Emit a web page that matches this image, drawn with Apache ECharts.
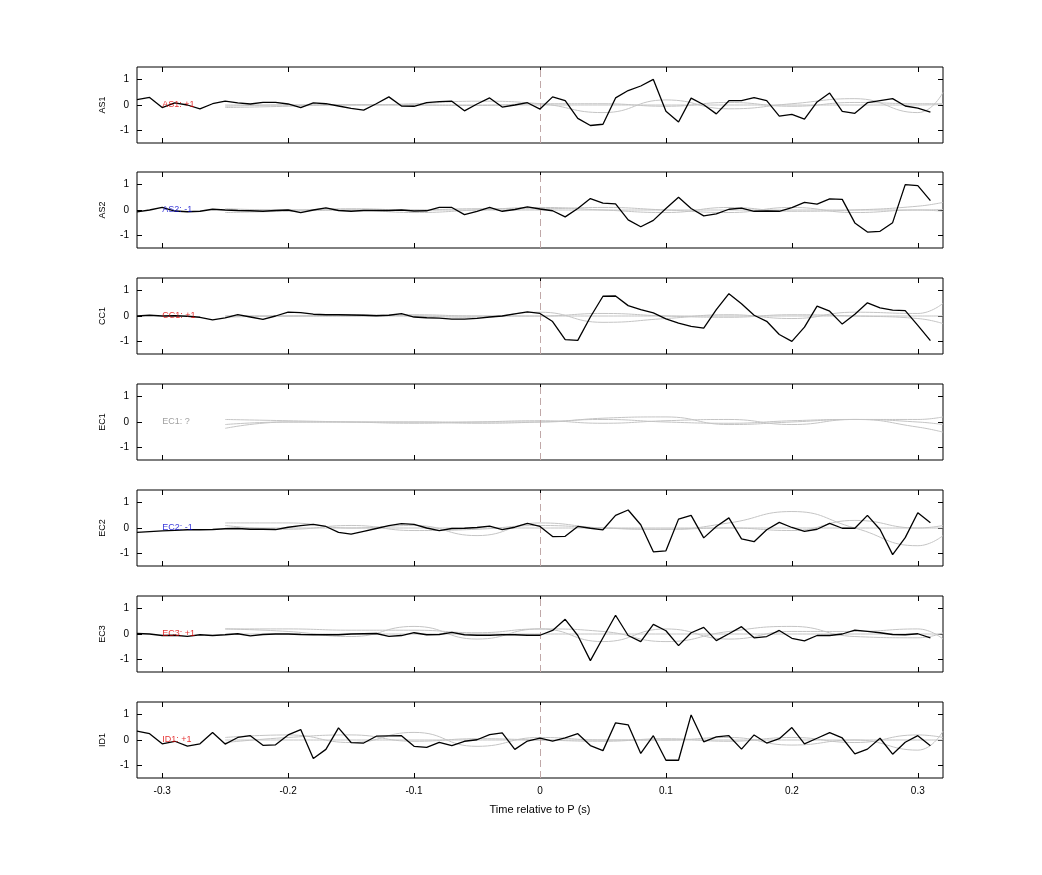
<!DOCTYPE html>
<html>
<head>
<meta charset="utf-8">
<script src="https://cdn.jsdelivr.net/npm/echarts@6/dist/echarts.min.js"></script>
<style>html,body{margin:0;padding:0;background:#fff}#main{width:1042px;height:875px}</style>
</head>
<body>
<div id="main"></div>
<script>
var stations = ['AS1', 'AS2', 'CC1', 'EC1', 'EC2', 'EC3', 'ID1'];
var labels = ['AS1: +1', 'AS2: -1', 'CC1: +1', 'EC1: ?', 'EC2: -1', 'EC3: +1', 'ID1: +1'];
var labelColors = ['#e00000', '#0000d0', '#e00000', '#888888', '#0000d0', '#e00000', '#e00000'];
var xTicks = [-0.3, -0.2, -0.1, 0, 0.1, 0.2, 0.3];
var yTicks = [-1, 0, 1];
var t0 = -0.32, dt = 0.01;

// black traces, one sample every 0.01 s from -0.32 s
var black = [
  [0.21,0.3,-0.1,0.08,0,-0.15,0.05,0.15,0.08,0.04,0.1,0.1,0.04,-0.1,0.08,0.05,-0.04,-0.13,-0.2,0.05,0.32,-0.04,-0.05,0.09,0.13,0.15,-0.23,0.04,0.28,-0.08,0,0.09,-0.16,0.32,0.17,-0.53,-0.81,-0.76,0.28,0.57,0.75,1.01,-0.25,-0.67,0.27,0.01,-0.35,0.17,0.17,0.29,0.17,-0.44,-0.37,-0.56,0.12,0.47,-0.25,-0.33,0.09,0.17,0.25,-0.04,-0.12,-0.28],
  [-0.07,0,0.1,-0.04,-0.07,-0.05,0.03,0,-0.02,-0.03,-0.05,-0.02,0,-0.1,0,0.08,-0.02,-0.05,-0.02,-0.02,-0.02,0,-0.04,-0.03,0.1,0.1,-0.18,-0.05,0.1,-0.05,0.02,0.12,0.04,-0.03,-0.27,0.06,0.45,0.27,0.24,-0.39,-0.66,-0.41,0.06,0.5,0.06,-0.23,-0.15,0.03,0.07,-0.05,-0.04,-0.05,0.09,0.3,0.23,0.44,0.42,-0.51,-0.87,-0.84,-0.5,1.0,0.96,0.37],
  [0,0.03,0,0.01,-0.01,-0.05,-0.15,-0.07,0.05,-0.04,-0.13,0,0.15,0.13,0.07,0.05,0.05,0.04,0.03,0.01,0.03,0.09,-0.04,-0.07,-0.08,-0.12,-0.12,-0.09,-0.04,0,0.08,0.16,0.1,-0.22,-0.93,-0.96,-0.04,0.78,0.79,0.41,0.25,0.12,-0.11,-0.28,-0.41,-0.48,0.25,0.88,0.48,0.03,-0.21,-0.73,-1.0,-0.44,0.39,0.19,-0.32,0.07,0.52,0.32,0.23,0.21,-0.37,-0.97],
  [],
  [-0.17,-0.14,-0.11,-0.09,-0.07,-0.07,-0.06,-0.03,-0.02,-0.05,-0.05,-0.06,0.03,0.09,0.14,0.06,-0.17,-0.24,-0.13,-0.02,0.09,0.17,0.14,0,-0.1,-0.02,-0.01,0.02,0.07,-0.06,0.03,0.18,0.06,-0.34,-0.33,0.06,-0.01,-0.07,0.5,0.71,0.13,-0.94,-0.9,0.35,0.5,-0.39,0.06,0.4,-0.43,-0.54,-0.07,0.22,0.02,-0.13,-0.05,0.18,-0.01,-0.01,0.5,-0.06,-1.05,-0.38,0.6,0.21],
  [0.02,0,-0.06,-0.05,-0.09,-0.03,-0.06,-0.03,0.01,-0.07,-0.02,0,0,-0.02,-0.03,-0.03,-0.03,0,0.01,0.02,-0.09,-0.06,0.05,-0.03,-0.02,0.06,-0.03,-0.05,-0.05,-0.03,-0.03,-0.05,-0.05,0.14,0.58,-0.06,-1.05,-0.15,0.74,-0.06,-0.3,0.38,0.13,-0.46,0.05,0.26,-0.26,0.01,0.29,-0.15,-0.1,0.14,-0.17,-0.27,-0.06,-0.06,0,0.15,0.1,0.05,-0.02,-0.03,0.01,-0.15],
  [0.35,0.25,-0.15,-0.05,-0.24,-0.15,0.3,-0.16,0.1,0.17,-0.21,-0.19,0.2,0.41,-0.73,-0.37,0.48,-0.1,-0.12,0.15,0.16,0.17,-0.25,-0.29,-0.09,-0.22,-0.05,0.01,0.21,0.28,-0.37,-0.04,0.07,-0.04,0.08,0.25,-0.22,-0.42,0.68,0.6,-0.53,0.17,-0.8,-0.8,0.99,-0.07,0.12,0.17,-0.36,0.2,-0.12,0.05,0.49,-0.15,0.07,0.29,0.08,-0.55,-0.36,0.07,-0.56,-0.09,0.17,-0.23]
];

// gray reference traces
var grayT = [-0.25,-0.2,-0.15,-0.1,-0.05,0,0.05,0.1,0.15,0.2,0.25,0.3,0.32];
var gray = [
  [[0,0,0,0,0,0,0,0,0,0,0,0,0.02],[-0.05,0,0,0.05,0.15,0.05,-0.3,0.2,-0.15,0.05,0.25,-0.3,0.5],[-0.1,-0.05,0.02,0,-0.02,0.05,0.05,-0.05,0.1,-0.05,0.1,0.05,0.05]],
  [[0,0,0,0,0,0,0,0,0,0,0,0,0.02],[-0.1,-0.05,0,-0.1,0,0.1,0,-0.1,0.1,-0.05,0,0.15,0.3],[0.05,0,0.05,0,0.05,0.05,0.1,0,-0.1,0.1,-0.1,0,-0.05]],
  [[0,0,0,0,0,0,0,0,0,0,0,0,0],[0,0,0.05,0,-0.05,0.15,-0.25,-0.1,0.05,-0.1,0.15,0.1,0.5],[-0.05,0,0,0.05,0,0,0.1,0,-0.05,0.05,0,-0.1,-0.3]],
  [[-0.25,0,0,0,0,0,0.15,0.2,-0.1,0,0.1,0,-0.1],[-0.1,0,0,0,-0.05,0,0.1,0,-0.05,0.05,0.1,-0.2,-0.4],[0.1,0.05,0,-0.05,0,0.05,-0.05,0.05,0.1,-0.1,0.1,0.1,0.2]],
  [[0,0,0,0,0,0,0,0,0,0,0,0,0],[0.2,0.2,0,0.1,-0.3,0.2,0,-0.05,0.2,0.65,0,-0.7,-0.3],[0.1,-0.05,0.1,-0.1,-0.05,0.1,0,-0.05,0,-0.1,0.3,0,0.1]],
  [[0.2,0.1,-0.1,0.3,-0.2,0.2,0.1,-0.3,0.1,0.3,-0.1,-0.15,0.05],[0.2,0.2,0.15,0.15,0.05,0.2,-0.3,0.2,-0.2,0.1,0.1,0.2,-0.2],[0,0,0,0,0,0,0,0,0,0,0,0,0]],
  [[0.1,0.2,-0.1,0.3,-0.25,0.1,0,0,0.1,-0.2,0,-0.4,0.35],[-0.1,0.1,0.2,-0.05,0.05,0,-0.05,0.05,-0.05,0.1,-0.1,0.2,0.1],[0,0,0,0,0,0,0,0,0,0,0,0,0]]
];

var tops = [67, 172, 278, 384, 490, 596, 702];
var font = 'Liberation Sans';
var grid = [], xAxis = [], yAxis = [], series = [];
var tick = {show: true, inside: true, length: 5, lineStyle: {color: '#000'}};
var noLine = {show: false, onZero: false};

stations.forEach(function (name, k) {
  grid.push({left: 137, width: 806, top: tops[k], height: 76, show: true, borderColor: '#000', borderWidth: 1});
  var last = k === stations.length - 1;
  xAxis.push({
    type: 'value', gridIndex: k, min: -0.32, max: 0.32, position: 'bottom',
    name: last ? 'Time relative to P (s)' : '', nameLocation: 'middle', nameGap: 26,
    nameTextStyle: {fontFamily: font, fontSize: 11, color: '#000'},
    axisLine: noLine, splitLine: {show: false},
    axisTick: Object.assign({customValues: xTicks}, tick),
    axisLabel: {show: last, customValues: xTicks, fontFamily: font, fontSize: 10, color: '#000', margin: 8,
      formatter: function (v) { return String(Math.round(v * 10) / 10); }}
  });
  xAxis.push({
    type: 'value', gridIndex: k, min: -0.32, max: 0.32, position: 'top',
    axisLine: noLine, splitLine: {show: false}, axisLabel: {show: false},
    axisTick: Object.assign({customValues: xTicks}, tick)
  });
  yAxis.push({
    type: 'value', gridIndex: k, min: -1.5, max: 1.5, position: 'left',
    name: name, nameLocation: 'middle', nameGap: 30, nameRotate: 90,
    nameTextStyle: {fontFamily: font, fontSize: 9, color: '#000'},
    axisLine: noLine, splitLine: {show: false},
    axisTick: Object.assign({customValues: yTicks}, tick),
    axisLabel: {customValues: yTicks, fontFamily: font, fontSize: 10, color: '#000', margin: 8}
  });
  yAxis.push({
    type: 'value', gridIndex: k, min: -1.5, max: 1.5, position: 'right',
    axisLine: noLine, splitLine: {show: false}, axisLabel: {show: false},
    axisTick: Object.assign({customValues: yTicks}, tick)
  });

  gray[k].forEach(function (g) {
    series.push({
      type: 'line', xAxisIndex: 2 * k, yAxisIndex: 2 * k, smooth: 0.5, symbol: 'none', silent: true,
      lineStyle: {color: '#c4c4c4', width: 1},
      data: g.map(function (v, i) { return [grayT[i], v]; })
    });
  });

  series.push({
    type: 'line', xAxisIndex: 2 * k, yAxisIndex: 2 * k, symbol: 'none',
    lineStyle: {color: '#000', width: 1.3}, z: 5,
    data: black[k].map(function (v, i) { return [+(t0 + i * dt).toFixed(2), v]; }),
    markLine: {symbol: 'none', silent: true, label: {show: false},
      lineStyle: {color: '#c0a8a8', type: [7, 4], width: 1}, data: [{xAxis: 0}]}
  });

  series.push({
    type: 'scatter', xAxisIndex: 2 * k, yAxisIndex: 2 * k, symbolSize: 0, z: 6,
    label: {show: true, position: 'right', distance: 0, formatter: labels[k],
      color: labelColors[k], fontFamily: font, fontSize: 9},
    data: [[-0.3, 0]]
  });
});

var myChart = echarts.init(document.getElementById('main'));
myChart.setOption({animation: false, grid: grid, xAxis: xAxis, yAxis: yAxis, series: series});
</script>
</body>
</html>
